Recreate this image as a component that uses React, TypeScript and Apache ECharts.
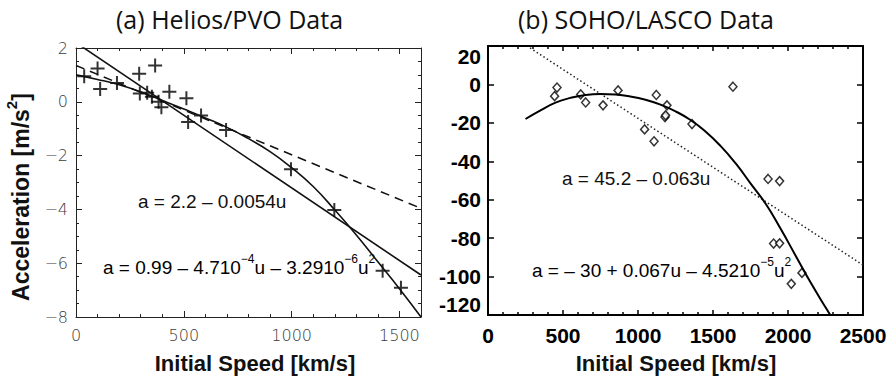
import { useEffect, useRef } from 'react';
import * as echarts from 'echarts';

// (a) Helios/PVO data
const leftSpeed = [38, 100, 112, 190, 293, 367, 296, 330, 352, 383, 396, 433, 512, 520, 580, 696, 997, 1198, 1422, 1507];
const leftAccel = [0.95, 1.24, 0.48, 0.7, 1.04, 1.35, 0.31, 0.34, 0.19, 0.0, -0.2, 0.37, 0.13, -0.75, -0.51, -1.05, -2.51, -4.02, -6.28, -6.91];
const leftLinearSpeed = [0, 1600];
const leftLinearAccel = [2.2, -6.44];
const leftDashedSpeed = [0, 1600];
const leftDashedAccel = [1.35, -3.96];
const leftQuadSpeed = [0, 100, 200, 300, 400, 500, 600, 700, 800, 900, 1000, 1100, 1200, 1300, 1400, 1500, 1600];
const leftQuadAccel = [1.0, 0.83, 0.63, 0.37, 0.05, -0.27, -0.6, -0.95, -1.37, -1.85, -2.45, -3.15, -4.02, -4.95, -5.95, -6.95, -8.0];

// (b) SOHO/LASCO data
const rightSpeed = [444, 460, 618, 651, 767, 867, 1044, 1107, 1122, 1180, 1184, 1193, 1360, 1633, 1867, 1944, 1904, 1944, 2022, 2093];
const rightAccel = [-6.1, -1.6, -5.2, -9.4, -10.9, -3.1, -23.4, -29.6, -5.5, -17.0, -16.1, -10.9, -20.6, -1.2, -49.2, -50.3, -82.8, -82.7, -103.8, -98.1];
const rightLinearSpeed = [280, 2500];
const rightLinearAccel = [19, -94];
const rightQuadSpeed = [250, 350, 450, 550, 650, 750, 850, 950, 1050, 1150, 1250, 1350, 1450, 1550, 1650, 1750, 1850, 1950, 2050, 2150, 2250, 2290];
const rightQuadAccel = [-18, -13.5, -9.5, -7, -5.5, -5, -5.3, -6.3, -8, -10.5, -14, -18.5, -24.5, -32, -41, -51.5, -62, -75, -89, -103, -116, -121];

// texts
const titleA = '(a) Helios/PVO Data';
const titleB = '(b) SOHO/LASCO Data';
const xName = 'Initial Speed [km/s]';
const leftEq1 = 'a = 2.2 – 0.0054u';
const leftEq2 = '{n|a = 0.99 – 4.710}{s|−4}{n|u – 3.2910}{s|−6}{n|u}{s|2}';
const rightEq1 = 'a = 45.2 – 0.063u';
const rightEq2 = '{n|a = – 30 + 0.067u – 4.5210}{s|−5}{n|u}{s|2}';

const zip = (xs: number[], ys: number[]) => xs.map((x, i) => [x, ys[i]]);

const CROSS = 'path://M6,0H8V6H14V8H8V14H6V8H0V6H6Z';

const leftLabelStyle = {
  fontFamily: 'DejaVu Sans',
  fontWeight: 300,
  fontSize: 16,
  color: '#3a3a3a',
};
const rightLabelStyle = {
  fontFamily: 'Liberation Sans, Arial, sans-serif',
  fontWeight: 'bold',
  fontSize: 21,
  color: '#000',
};

const eqRich = {
  n: { fontFamily: 'Liberation Sans, Arial', fontSize: 19, color: '#111', verticalAlign: 'bottom', lineHeight: 24 },
  s: { fontFamily: 'Liberation Sans, Arial', fontSize: 12, color: '#111', verticalAlign: 'top', lineHeight: 24 },
};

const plain = (v: number) => String(v);

function buildOption() {
  const leftLine = { show: true, onZero: false, lineStyle: { color: '#222', width: 1 } };
  const rightLine = { show: true, onZero: false, lineStyle: { color: '#000', width: 2 } };
  const hiddenLine = { show: false, onZero: false };
  const noLabel = { show: false };
  const noSplit = { show: false };

  const xAxis: any[] = [
    {
      gridIndex: 0, type: 'value', min: 0, max: 1600, interval: 500, position: 'bottom',
      axisLine: leftLine, splitLine: noSplit,
      axisTick: { show: true, inside: true, length: 6, lineStyle: { color: '#222' } },
      axisLabel: { ...leftLabelStyle, margin: 10, showMaxLabel: false, formatter: plain },
    },
    {
      gridIndex: 0, type: 'value', min: 0, max: 1600, interval: 100, position: 'bottom',
      axisLine: hiddenLine, splitLine: noSplit,
      axisTick: { show: true, inside: true, length: 3, lineStyle: { color: '#222' } },
      axisLabel: noLabel,
    },
    {
      gridIndex: 0, type: 'value', min: 0, max: 1600, interval: 500, position: 'top',
      axisLine: leftLine, splitLine: noSplit,
      axisTick: { show: true, inside: true, length: 6, lineStyle: { color: '#222' } },
      axisLabel: noLabel,
    },
    {
      gridIndex: 0, type: 'value', min: 0, max: 1600, interval: 100, position: 'top',
      axisLine: hiddenLine, splitLine: noSplit,
      axisTick: { show: true, inside: true, length: 3, lineStyle: { color: '#222' } },
      axisLabel: noLabel,
    },
    {
      gridIndex: 1, type: 'value', min: 0, max: 2500, interval: 500, position: 'bottom',
      axisLine: rightLine, splitLine: noSplit,
      axisTick: { show: true, inside: true, length: 5, lineStyle: { color: '#000', width: 1.5 } },
      minorTick: { show: true, splitNumber: 5, length: 3, lineStyle: { color: '#000', width: 1.5 } },
      axisLabel: { ...rightLabelStyle, margin: 10, formatter: plain },
    },
    {
      gridIndex: 1, type: 'value', min: 0, max: 2500, interval: 500, position: 'top',
      axisLine: rightLine, splitLine: noSplit,
      axisTick: { show: true, inside: true, length: 5, lineStyle: { color: '#000', width: 1.5 } },
      minorTick: { show: true, splitNumber: 5, length: 3, lineStyle: { color: '#000', width: 1.5 } },
      axisLabel: noLabel,
    },
  ];

  const yAxis: any[] = [
    {
      gridIndex: 0, type: 'value', min: -8, max: 2, interval: 2, position: 'left',
      axisLine: leftLine, splitLine: noSplit,
      axisTick: { show: true, inside: true, length: 6, lineStyle: { color: '#222' } },
      minorTick: { show: true, splitNumber: 4, length: 3, lineStyle: { color: '#222' } },
      axisLabel: {
        ...leftLabelStyle, margin: 8,
        formatter: (v: number) => (v < 0 ? '−' + Math.abs(v) : String(v)),
      },
    },
    {
      gridIndex: 0, type: 'value', min: -8, max: 2, interval: 2, position: 'right',
      axisLine: leftLine, splitLine: noSplit,
      axisTick: { show: true, inside: true, length: 6, lineStyle: { color: '#222' } },
      minorTick: { show: true, splitNumber: 4, length: 3, lineStyle: { color: '#222' } },
      axisLabel: noLabel,
    },
    {
      gridIndex: 1, type: 'value', min: -120, max: 20, interval: 20, position: 'left',
      axisLine: rightLine, splitLine: noSplit,
      axisTick: { show: true, inside: true, length: 6, lineStyle: { color: '#000', width: 1.5 } },
      axisLabel: {
        ...rightLabelStyle, margin: 7, formatter: plain,
        verticalAlignMinLabel: 'bottom',
        verticalAlignMaxLabel: 'top',
      },
    },
    {
      gridIndex: 1, type: 'value', min: -120, max: 20, interval: 20, position: 'right',
      axisLine: rightLine, splitLine: noSplit,
      axisTick: { show: true, inside: true, length: 6, lineStyle: { color: '#000', width: 1.5 } },
      axisLabel: noLabel,
    },
  ];

  const lineBase = { type: 'line', showSymbol: false, symbol: 'none', silent: true, clip: true };

  const series: any[] = [
    {
      ...lineBase, name: 'left-dashed', xAxisIndex: 0, yAxisIndex: 0,
      data: zip(leftDashedSpeed, leftDashedAccel),
      lineStyle: { color: '#111', width: 1.5, type: [9, 6] },
    },
    {
      ...lineBase, name: 'left-linear', xAxisIndex: 0, yAxisIndex: 0,
      data: zip(leftLinearSpeed, leftLinearAccel),
      lineStyle: { color: '#111', width: 1.6 },
    },
    {
      ...lineBase, name: 'left-quad', xAxisIndex: 0, yAxisIndex: 0, smooth: true,
      data: zip(leftQuadSpeed, leftQuadAccel),
      lineStyle: { color: '#111', width: 1.6 },
    },
    {
      type: 'scatter', name: 'Helios/PVO', xAxisIndex: 0, yAxisIndex: 0,
      symbol: CROSS, symbolSize: 14,
      itemStyle: { color: '#000' },
      data: zip(leftSpeed, leftAccel),
    },
    {
      ...lineBase, name: 'right-linear', xAxisIndex: 4, yAxisIndex: 2,
      data: zip(rightLinearSpeed, rightLinearAccel),
      lineStyle: { color: '#222', width: 1.5, type: [1.5, 2.5] },
    },
    {
      ...lineBase, name: 'right-quad', xAxisIndex: 4, yAxisIndex: 2, smooth: true,
      data: zip(rightQuadSpeed, rightQuadAccel),
      lineStyle: { color: '#000', width: 2 },
    },
    {
      type: 'scatter', name: 'SOHO/LASCO', xAxisIndex: 4, yAxisIndex: 2,
      symbol: 'diamond', symbolSize: [8, 9],
      itemStyle: { color: '#fff', borderColor: '#000', borderWidth: 1.5 },
      data: zip(rightSpeed, rightAccel),
    },
  ];

  const titleStyle = {
    fontFamily: 'Open Sans', fontSize: 25, fill: '#111',
    align: 'left', verticalAlign: 'middle',
  };

  const graphic: any[] = [
    { type: 'text', x: 116, y: 19, style: { ...titleStyle, text: titleA } },
    { type: 'text', x: 518, y: 19, style: { ...titleStyle, text: titleB } },
    {
      type: 'text', x: 255, y: 363,
      style: {
        text: xName, fontFamily: 'Liberation Sans, Arial', fontWeight: 'bold', fontSize: 22,
        fill: '#111', align: 'center', verticalAlign: 'middle',
      },
    },
    {
      type: 'text', x: 676, y: 363,
      style: {
        text: xName, fontFamily: 'Liberation Sans, Arial', fontWeight: 'bold', fontSize: 22,
        fill: '#111', align: 'center', verticalAlign: 'middle',
      },
    },
    {
      type: 'text', x: 18, y: 197, rotation: Math.PI / 2,
      style: {
        text: '{n|Acceleration [m/s}{s|2}{n|]}',
        align: 'center', verticalAlign: 'middle',
        rich: {
          n: { fontFamily: 'Liberation Sans, Arial', fontWeight: 'bold', fontSize: 23, fill: '#111', verticalAlign: 'bottom', lineHeight: 28 },
          s: { fontFamily: 'Liberation Sans, Arial', fontWeight: 'bold', fontSize: 15, fill: '#111', verticalAlign: 'top', lineHeight: 28 },
        },
      },
    },
    {
      type: 'text', x: 138, y: 201,
      style: { text: leftEq1, fontFamily: 'Liberation Sans, Arial', fontSize: 19, fill: '#111', align: 'left', verticalAlign: 'middle' },
    },
    {
      type: 'text', x: 103, y: 265,
      style: { text: leftEq2, rich: eqRich, align: 'left', verticalAlign: 'middle' },
    },
    {
      type: 'text', x: 562, y: 178,
      style: { text: rightEq1, fontFamily: 'Liberation Sans, Arial', fontSize: 19, fill: '#111', align: 'left', verticalAlign: 'middle' },
    },
    {
      type: 'text', x: 532, y: 268,
      style: { text: rightEq2, rich: eqRich, align: 'left', verticalAlign: 'middle' },
    },
  ];

  return {
    animation: false,
    backgroundColor: '#fff',
    grid: [
      { left: 76, top: 48, width: 345, height: 269 },
      { left: 488, top: 46, width: 375, height: 269 },
    ],
    xAxis,
    yAxis,
    series,
    graphic,
  };
}

export default function App() {
  const ref = useRef<HTMLDivElement>(null);
  useEffect(() => {
    document.body.style.margin = '0';
    const chart = echarts.init(ref.current as HTMLDivElement, null, { renderer: 'svg' });
    chart.setOption(buildOption() as any);
    return () => chart.dispose();
  }, []);
  return <div ref={ref} style={{ width: 893, height: 377 }} />;
}
